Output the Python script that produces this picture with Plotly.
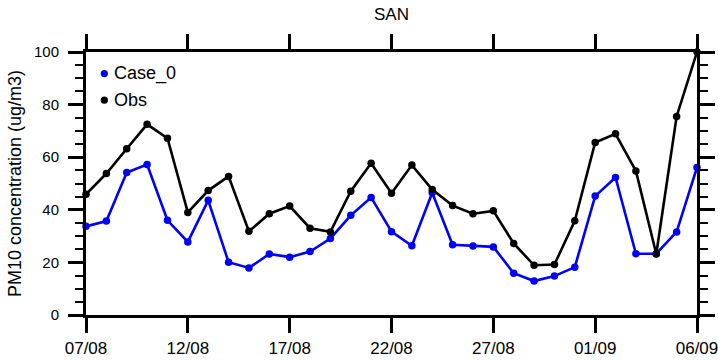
import pandas as pd
import plotly.graph_objects as go

# Daily PM10 concentration at station SAN, 07/08 - 06/09
dates = pd.date_range("2019-08-07", "2019-09-06", freq="D")

case_0 = [33.7, 35.7, 54.2, 57.2, 36.0, 27.8, 43.6, 20.1, 17.9, 23.2,
          22.0, 24.1, 29.1, 37.9, 44.7, 31.7, 26.3, 46.5, 26.7, 26.2,
          25.9, 15.9, 12.9, 14.8, 18.2, 45.2, 52.3, 23.3, 23.3, 31.6,
          56.1]

obs = [45.9, 53.8, 63.2, 72.5, 67.2, 39.0, 47.3, 52.7, 31.8, 38.5,
       41.4, 33.0, 31.6, 47.1, 57.7, 46.3, 57.0, 47.7, 41.6, 38.5,
       39.6, 27.2, 18.9, 19.2, 35.8, 65.6, 68.9, 54.8, 23.2, 75.5,
       100.0]

series_names = ["Case_0", "Obs"]
series_colors = ["#0000ff", "#000000"]
y_ticks = [0, 20, 40, 60, 80, 100]

FONT = "Liberation Sans, Arial, Helvetica, sans-serif"

fig = go.Figure()
for name, vals, col in zip(series_names, [case_0, obs], series_colors):
    fig.add_trace(go.Scatter(
        x=dates, y=vals, name=name, mode="lines+markers",
        line=dict(color=col, width=2.6),
        marker=dict(color=col, size=7.5),
        showlegend=False, cliponaxis=False,
    ))

# Hand-placed legend: a dot and a label per series
legend_y = [0.918, 0.817]
for name, col, ly in zip(series_names, series_colors, legend_y):
    fig.add_shape(type="circle", xref="paper", yref="paper",
                  xsizemode="pixel", ysizemode="pixel",
                  xanchor=0.030, yanchor=ly,
                  x0=-3.6, x1=3.6, y0=-3.6, y1=3.6,
                  fillcolor=col, line=dict(width=0))
    fig.add_annotation(x=0.043, y=ly, xref="paper", yref="paper",
                       text=name, showarrow=False, xanchor="left",
                       yanchor="middle",
                       font=dict(family=FONT, size=18, color="#000000"))

fig.update_layout(
    width=718, height=360,
    margin=dict(l=86, r=21, t=52, b=45),
    paper_bgcolor="white", plot_bgcolor="white",
    title=dict(text="SAN", x=0.5 + (86 - 21) / 2 / 718, xanchor="center",
               y=1 - 14 / 360, yanchor="middle",
               font=dict(family=FONT, size=17, color="#000000")),
    font=dict(family=FONT, color="#000000"),
)

fig.update_xaxes(
    range=[dates[0], dates[-1]], automargin=False,
    tick0=dates[0], dtick=5 * 86400000, tickformat="%d/%m",
    ticks="outside", ticklen=15, tickwidth=2.6, tickcolor="#000000",
    showline=True, linewidth=3, linecolor="#000000", mirror="ticks",
    showgrid=False, zeroline=False,
    tickfont=dict(family=FONT, size=17, color="#000000"),
    ticklabelstandoff=1, ticklabeloverflow="allow",
)

fig.update_yaxes(
    range=[0, 100], tickvals=y_ticks, automargin=False,
    ticks="outside", ticklen=15, tickwidth=2.6, tickcolor="#000000",
    minor=dict(dtick=5, ticks="outside", ticklen=8, tickwidth=2,
               tickcolor="#000000", showgrid=False),
    showline=True, linewidth=3, linecolor="#000000", mirror="ticks",
    showgrid=False, zeroline=False,
    tickfont=dict(family=FONT, size=15, color="#000000"),
    ticklabelstandoff=6,
    title=dict(text="PM10 concentration (ug/m3)", standoff=8,
               font=dict(family=FONT, size=18, color="#000000")),
)

fig.write_html("out.html")
